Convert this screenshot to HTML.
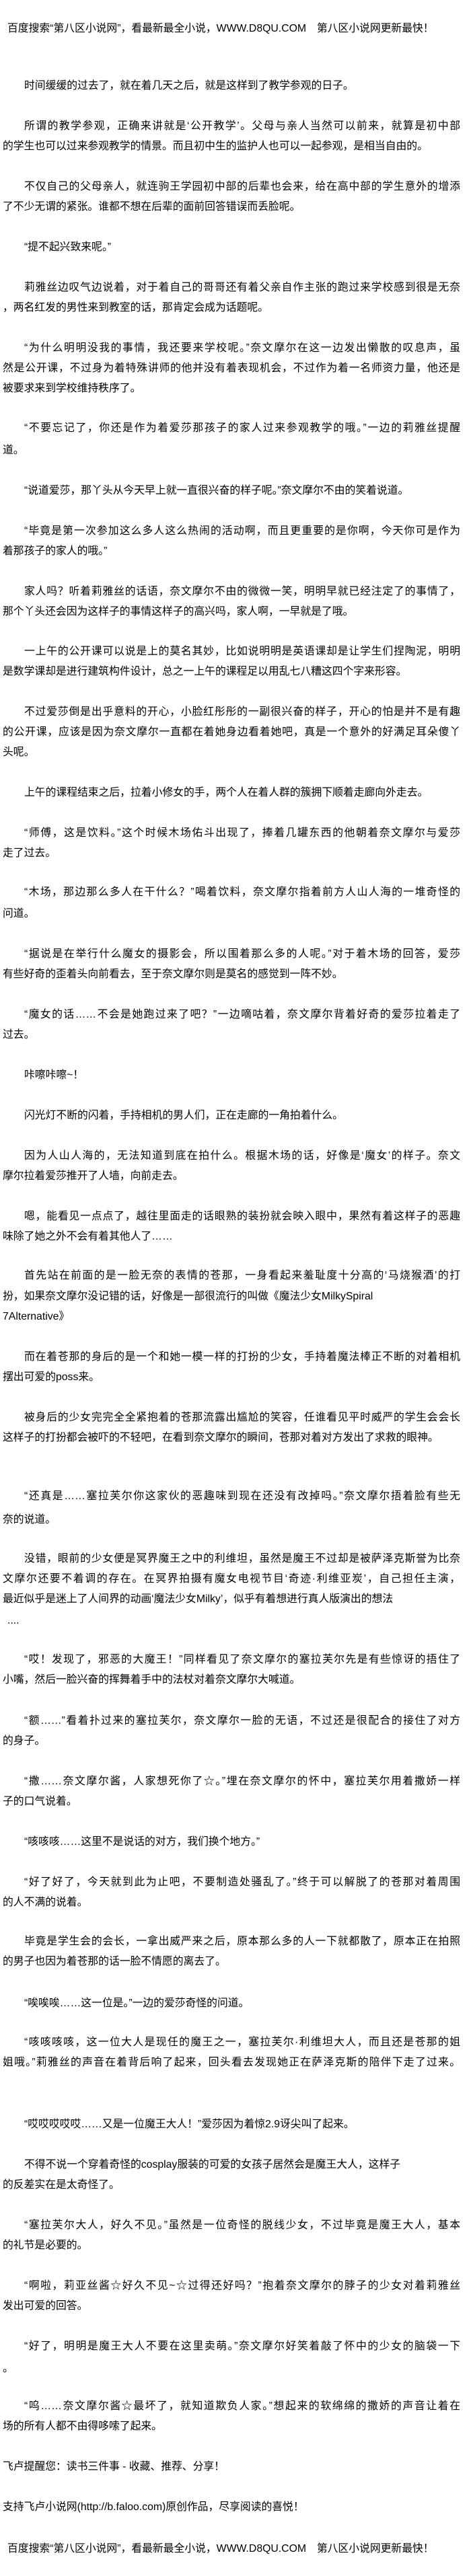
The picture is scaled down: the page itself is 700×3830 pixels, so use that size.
<!DOCTYPE html>
<html><head><meta charset="utf-8">
<style>
html,body{margin:0;padding:0;background:#fff;}
body{width:700px;height:3830px;position:relative;overflow:hidden;color:#000;
font-family:"Liberation Sans","Noto Sans CJK SC","WenQuanYi Zen Hei",sans-serif;}
.l{position:absolute;white-space:nowrap;font-size:15.8px;line-height:20px;height:20px;}
.i{left:36px}.c{left:4px}.h{left:11px}
.f{text-align:justify;text-align-last:justify;}
.i.f{width:648px}.c.f{width:680px}
</style></head><body>
<div class="l h" style="top:33px">百度搜索“第八区小说网”，看最新最全小说，WWW.D8QU.COM　第八区小说网更新最快！</div>
<div class="l i" style="top:118px">时间缓缓的过去了，就在着几天之后，就是这样到了教学参观的日子。</div>
<div class="l i f" style="top:178px">所谓的教学参观，正确来讲就是‘公开教学’。父母与亲人当然可以前来，就算是初中部</div>
<div class="l c" style="top:208px">的学生也可以过来参观教学的情景。而且初中生的监护人也可以一起参观，是相当自由的。</div>
<div class="l i f" style="top:268px">不仅自己的父母亲人，就连驹王学园初中部的后辈也会来，给在高中部的学生意外的增添</div>
<div class="l c" style="top:298px">了不少无谓的紧张。谁都不想在后辈的面前回答错误而丢脸呢。</div>
<div class="l i" style="top:358px">“提不起兴致来呢。”</div>
<div class="l i f" style="top:418px">莉雅丝边叹气边说着，对于着自己的哥哥还有着父亲自作主张的跑过来学校感到很是无奈</div>
<div class="l c" style="top:448px">，两名红发的男性来到教室的话，那肯定会成为话题呢。</div>
<div class="l i f" style="top:508px">“为什么明明没我的事情，我还要来学校呢。”奈文摩尔在这一边发出懒散的叹息声，虽</div>
<div class="l c f" style="top:538px">然是公开课，不过身为着特殊讲师的他并没有着表现机会，不过作为着一名师资力量，他还是</div>
<div class="l c" style="top:568px">被要求来到学校维持秩序了。</div>
<div class="l i f" style="top:627px">“不要忘记了，你还是作为着爱莎那孩子的家人过来参观教学的哦。”一边的莉雅丝提醒</div>
<div class="l c" style="top:660px">道。</div>
<div class="l i" style="top:720px">“说道爱莎，那丫头从今天早上就一直很兴奋的样子呢。”奈文摩尔不由的笑着说道。</div>
<div class="l i f" style="top:780px">“毕竟是第一次参加这么多人这么热闹的活动啊，而且更重要的是你啊，今天你可是作为</div>
<div class="l c" style="top:810px">着那孩子的家人的哦。”</div>
<div class="l i f" style="top:870px">家人吗？听着莉雅丝的话语，奈文摩尔不由的微微一笑，明明早就已经注定了的事情了，</div>
<div class="l c" style="top:900px">那个丫头还会因为这样子的事情这样子的高兴吗，家人啊，一早就是了哦。</div>
<div class="l i f" style="top:959px">一上午的公开课可以说是上的莫名其妙，比如说明明是英语课却是让学生们捏陶泥，明明</div>
<div class="l c" style="top:989px">是数学课却是进行建筑构件设计，总之一上午的课程足以用乱七八糟这四个字来形容。</div>
<div class="l i f" style="top:1049px">不过爱莎倒是出乎意料的开心，小脸红彤彤的一副很兴奋的样子，开心的怕是并不是有趣</div>
<div class="l c f" style="top:1079px">的公开课，应该是因为奈文摩尔一直都在着她身边看着她吧，真是一个意外的好满足耳朵傻丫</div>
<div class="l c" style="top:1109px">头呢。</div>
<div class="l i" style="top:1169px">上午的课程结束之后，拉着小修女的手，两个人在着人群的簇拥下顺着走廊向外走去。</div>
<div class="l i f" style="top:1229px">“师傅，这是饮料。”这个时候木场佑斗出现了，捧着几罐东西的他朝着奈文摩尔与爱莎</div>
<div class="l c" style="top:1259px">走了过去。</div>
<div class="l i f" style="top:1317px">“木场，那边那么多人在干什么？”喝着饮料，奈文摩尔指着前方人山人海的一堆奇怪的</div>
<div class="l c" style="top:1349px">问道。</div>
<div class="l i f" style="top:1409px">“据说是在举行什么魔女的摄影会，所以围着那么多的人呢。”对于着木场的回答，爱莎</div>
<div class="l c" style="top:1439px">有些好奇的歪着头向前看去，至于奈文摩尔则是莫名的感觉到一阵不妙。</div>
<div class="l i f" style="top:1499px">“魔女的话……不会是她跑过来了吧？”一边嘀咕着，奈文摩尔背着好奇的爱莎拉着走了</div>
<div class="l c" style="top:1529px">过去。</div>
<div class="l i" style="top:1589px">咔嚓咔嚓~！</div>
<div class="l i" style="top:1649px">闪光灯不断的闪着，手持相机的男人们，正在走廊的一角拍着什么。</div>
<div class="l i f" style="top:1709px">因为人山人海的，无法知道到底在拍什么。根据木场的话，好像是‘魔女’的样子。奈文</div>
<div class="l c" style="top:1739px">摩尔拉着爱莎推开了人墙，向前走去。</div>
<div class="l i f" style="top:1799px">嗯，能看见一点点了，越往里面走的话眼熟的装扮就会映入眼中，果然有着这样子的恶趣</div>
<div class="l c" style="top:1829px">味除了她之外不会有着其他人了……</div>
<div class="l i f" style="top:1887px">首先站在前面的是一脸无奈的表情的苍那，一身看起来羞耻度十分高的‘马烧猴酒’的打</div>
<div class="l c" style="top:1918px">扮，如果奈文摩尔没记错的话，好像是一部很流行的叫做《魔法少女MilkySpiral</div>
<div class="l c" style="top:1948px">7Alternative》</div>
<div class="l i f" style="top:2008px">而在着苍那的身后的是一个和她一模一样的打扮的少女，手持着魔法棒正不断的对着相机</div>
<div class="l c" style="top:2038px">摆出可爱的poss来。</div>
<div class="l i f" style="top:2098px">被身后的少女完完全全紧抱着的苍那流露出尴尬的笑容，任谁看见平时威严的学生会会长</div>
<div class="l c" style="top:2128px">这样子的打扮都会被吓的不轻吧，在看到奈文摩尔的瞬间，苍那对着对方发出了求救的眼神。</div>
<div class="l i f" style="top:2215px">“还真是……塞拉芙尔你这家伙的恶趣味到现在还没有改掉吗。”奈文摩尔捂着脸有些无</div>
<div class="l c" style="top:2250px">奈的说道。</div>
<div class="l i f" style="top:2308px">没错，眼前的少女便是冥界魔王之中的利维坦，虽然是魔王不过却是被萨泽克斯誉为比奈</div>
<div class="l c f" style="top:2338px">文摩尔还要不着调的存在。在冥界拍摄有魔女电视节目‘奇迹·利维亚炭’，自己担任主演，</div>
<div class="l c" style="top:2368px">最近似乎是迷上了人间界的动画‘魔法少女Milky’，似乎有着想进行真人版演出的想法</div>
<div class="l h" style="top:2400px">....</div>
<div class="l i f" style="top:2458px">“哎！发现了，邪恶的大魔王！”同样看见了奈文摩尔的塞拉芙尔先是有些惊讶的捂住了</div>
<div class="l c" style="top:2488px">小嘴，然后一脸兴奋的挥舞着手中的法杖对着奈文摩尔大喊道。</div>
<div class="l i f" style="top:2549px">“额……”看着扑过来的塞拉芙尔，奈文摩尔一脸的无语，不过还是很配合的接住了对方</div>
<div class="l c" style="top:2579px">的身子。</div>
<div class="l i f" style="top:2639px">“撒……奈文摩尔酱，人家想死你了☆。”埋在奈文摩尔的怀中，塞拉芙尔用着撒娇一样</div>
<div class="l c" style="top:2669px">子的口气说着。</div>
<div class="l i" style="top:2729px">“咳咳咳……这里不是说话的对方，我们换个地方。”</div>
<div class="l i f" style="top:2789px">“好了好了，今天就到此为止吧，不要制造处骚乱了。”终于可以解脱了的苍那对着周围</div>
<div class="l c" style="top:2819px">的人不满的说着。</div>
<div class="l i f" style="top:2877px">毕竟是学生会的会长，一拿出威严来之后，原本那么多的人一下就都散了，原本正在拍照</div>
<div class="l c" style="top:2907px">的男子也因为着苍那的话一脸不情愿的离去了。</div>
<div class="l i" style="top:2969px">“唉唉唉……这一位是。”一边的爱莎奇怪的问道。</div>
<div class="l i f" style="top:3027px">“咳咳咳咳，这一位大人是现任的魔王之一，塞拉芙尔·利维坦大人，而且还是苍那的姐</div>
<div class="l c f" style="top:3057px">姐哦。”莉雅丝的声音在着背后响了起来，回头看去发现她正在萨泽克斯的陪伴下走了过来。</div>
<div class="l i" style="top:3149px">“哎哎哎哎哎……又是一位魔王大人！”爱莎因为着惊2.9讶尖叫了起来。</div>
<div class="l i" style="top:3209px">不得不说一个穿着奇怪的cosplay服装的可爱的女孩子居然会是魔王大人，这样子</div>
<div class="l c" style="top:3239px">的反差实在是太奇怪了。</div>
<div class="l i f" style="top:3299px">“塞拉芙尔大人，好久不见。”虽然是一位奇怪的脱线少女，不过毕竟是魔王大人，基本</div>
<div class="l c" style="top:3329px">的礼节是必要的。</div>
<div class="l i f" style="top:3389px">“啊啦，莉亚丝酱☆好久不见~☆过得还好吗？”抱着奈文摩尔的脖子的少女对着莉雅丝</div>
<div class="l c" style="top:3419px">发出可爱的回答。</div>
<div class="l i f" style="top:3479px">“好了，明明是魔王大人不要在这里卖萌。”奈文摩尔好笑着敲了怀中的少女的脑袋一下</div>
<div class="l c" style="top:3512px">。</div>
<div class="l i f" style="top:3568px">“呜……奈文摩尔酱☆最坏了，就知道欺负人家。”想起来的软绵绵的撒娇的声音让着在</div>
<div class="l c" style="top:3598px">场的所有人都不由得哆嗦了起来。</div>
<div class="l c" style="top:3658px">飞卢提醒您：读书三件事 - 收藏、推荐、分享！</div>
<div class="l c" style="top:3718px">支持飞卢小说网(http://b.faloo.com)原创作品，尽享阅读的喜悦！</div>
<div class="l h" style="top:3780px">百度搜索“第八区小说网”，看最新最全小说，WWW.D8QU.COM　第八区小说网更新最快！</div>
</body></html>
